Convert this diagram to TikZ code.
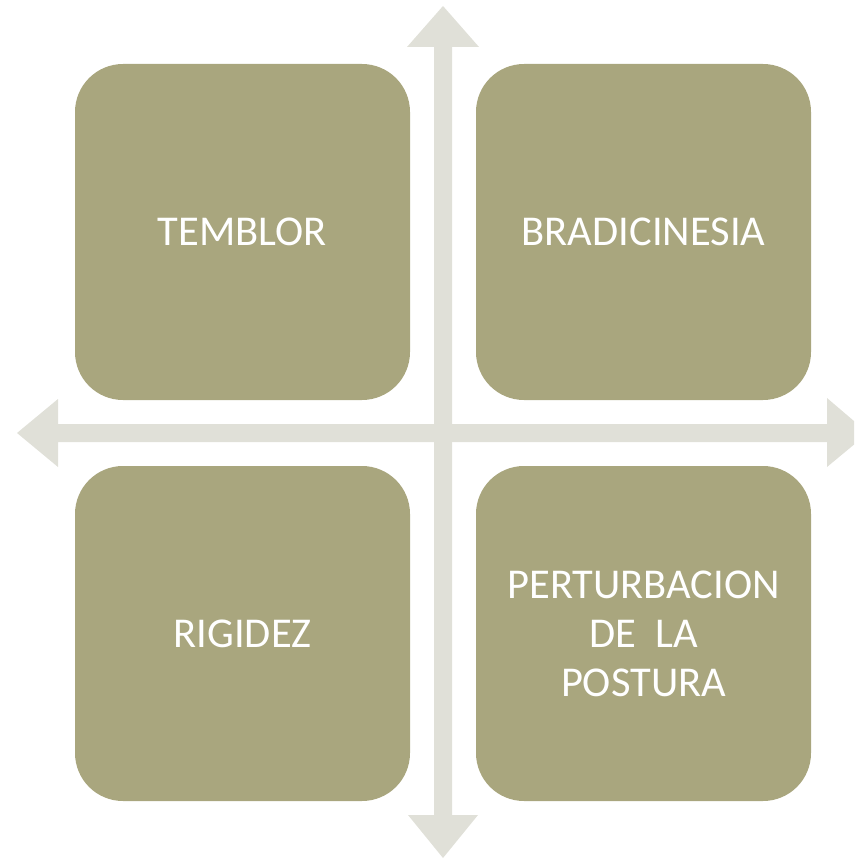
\documentclass[tikz,border=0pt]{standalone}
\usepackage{fontspec}
\setmainfont{Carlito}
\definecolor{boxc}{HTML}{A9A67E}
\definecolor{arrc}{HTML}{E0E0D8}
\begin{document}
\begin{tikzpicture}[x=1pt,y=-1pt,
  quad/.style={fill=boxc, draw=none, rounded corners=48pt},
  lbl/.style={text=white, align=center, font=\fontsize{42.5}{49}\selectfont, inner sep=0pt},
  arr/.style={fill=arrc, draw=none}]
\useasboundingbox (0,0) rectangle (854,859);
\begin{scope}
\clip (0,0) rectangle (854,859);
% boxes
\path[quad] (75,64) rectangle (410,400);
\path[quad] (476,64) rectangle (811,400);
\path[quad] (75,466) rectangle (410,801);
\path[quad] (476,466) rectangle (811,801);
% vertical double arrow
\path[arr] (443,6) -- (479,47) -- (452,47) -- (452,815) -- (478,815) -- (443,858)
  -- (408,815) -- (434,815) -- (434,47) -- (407,47) -- cycle;
% horizontal double arrow
\path[arr] (17,433) -- (58,399) -- (58,424) -- (827,424) -- (827,398) -- (868,433)
  -- (827,467) -- (827,442) -- (58,442) -- (58,467) -- cycle;
\end{scope}
\node[lbl] (t1) at (242.5,232) {TEMBLOR};
\node[lbl] (t2) at (643.5,232) {BRADICINESIA};
\node[lbl] (t3) at (242.5,633.5) {RIGIDEZ};
\node[lbl] (t4) at (643.5,634) {PERTURBACION\\DE\ \ LA\\POSTURA};
\end{tikzpicture}
\end{document}
